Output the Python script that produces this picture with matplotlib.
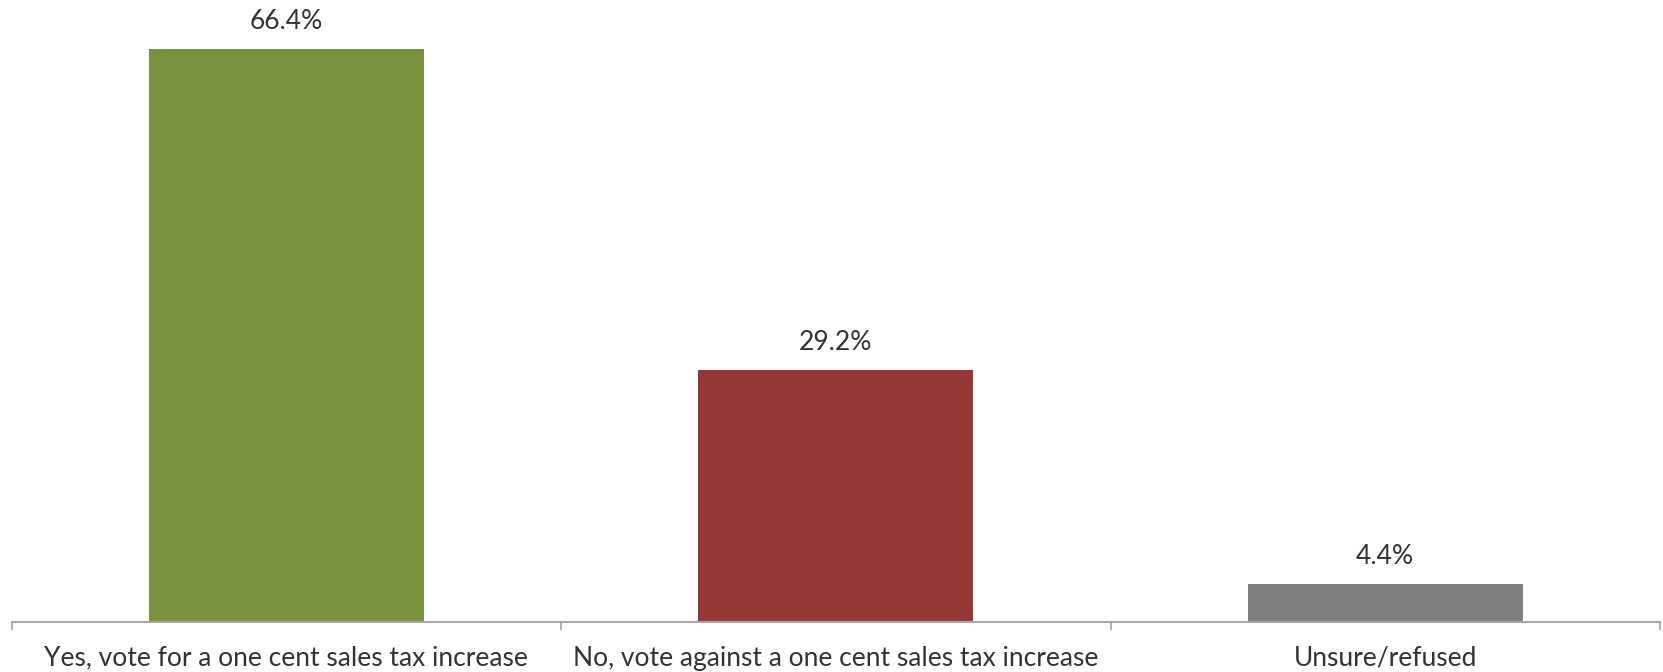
import matplotlib.pyplot as plt

categories = ["Yes, vote for a one cent sales tax increase",
              "No, vote against a one cent sales tax increase",
              "Unsure/refused"]
values = [66.4, 29.2, 4.4]
labels = ["66.4%", "29.2%", "4.4%"]
colors = ["#77933C", "#953735", "#7F7F7F"]

plt.rcParams['font.family'] = ['Lato', 'DejaVu Sans']

fig = plt.figure(figsize=(16.63, 6.72), dpi=100)
ax = fig.add_axes([11.5 / 1663, 50 / 672, 1648.5 / 1663, 604 / 672])

x = range(len(categories))
bars = ax.bar(x, values, width=0.5, color=colors)

for b, lab in zip(bars, labels):
    ax.annotate(lab, (b.get_x() + b.get_width() / 2, b.get_height()),
                xytext=(0, 20), textcoords="offset points",
                ha="center", va="center", fontsize=19, fontweight="normal",
                color="#333333", annotation_clip=False)

ax.set_xlim(-0.5, 2.5)
ax.set_ylim(0, 70)

ax.set_xticks([-0.5, 0.5, 1.5, 2.5])
ax.set_xticklabels([])
ax.set_xticks(list(x), minor=True)
ax.set_xticklabels(categories, minor=True, fontsize=19, fontweight="normal",
                   color="#333333")
ax.tick_params(axis="x", which="major", length=6, width=1.2, color="#A6A6A6",
               direction="out")
ax.tick_params(axis="x", which="minor", length=0, pad=17)

ax.set_yticks([])
for s in ["top", "right", "left"]:
    ax.spines[s].set_visible(False)
ax.spines["bottom"].set_color("#A6A6A6")
ax.spines["bottom"].set_linewidth(1.5)

fig.savefig("out.png", dpi=100)
